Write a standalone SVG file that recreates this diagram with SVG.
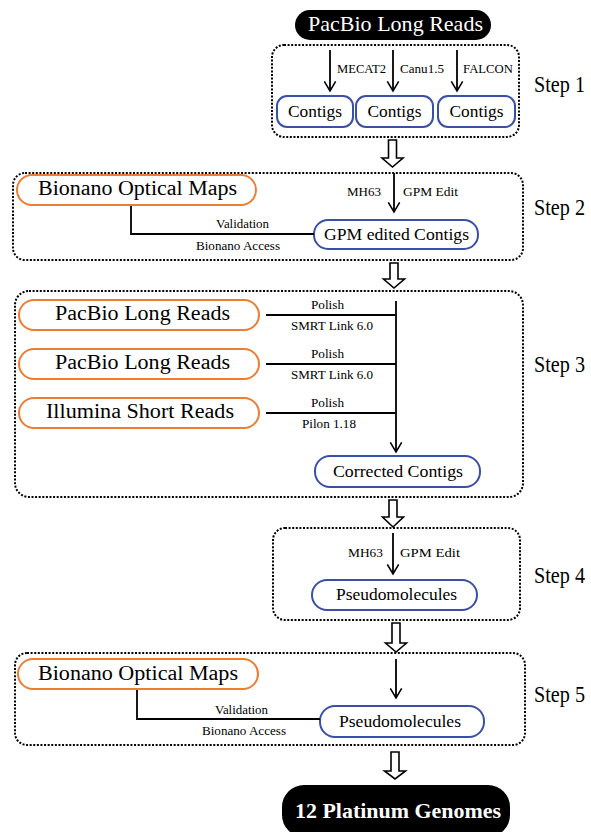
<svg xmlns="http://www.w3.org/2000/svg" width="591" height="832" viewBox="0 0 591 832" font-family="Liberation Serif, Times New Roman, serif">
<defs>
<style>
text{font-family:'Liberation Serif','Times New Roman',serif;fill:#000}
.dot{fill:none;stroke:#000;stroke-width:2;stroke-dasharray:2 1.6}
.or{fill:#fff;stroke:#ED7D31;stroke-width:2}
.bl{fill:#fff;stroke:#3A4FA8;stroke-width:2}
.ln{fill:none;stroke:#000;stroke-width:1.8}
.hol{fill:#fff;stroke:#000;stroke-width:1.6;stroke-linejoin:miter}
.big{font-size:20px}
.mid{font-size:17px}
.sm{font-size:12.5px}
.step{font-size:23px}
.wt{fill:#fff}
</style>
<marker id="chev" markerWidth="16" markerHeight="14" viewBox="-12 -8 14 16" refX="0" refY="0" orient="auto" markerUnits="userSpaceOnUse">
<path d="M-11,-6.5 L0,0 L-11,6.5" fill="none" stroke="#000" stroke-width="1.8"/>
</marker>
</defs>

<g id="step-boxes">
<rect id="step1-box" class="dot" x="272" y="45" width="247" height="92" rx="12"/>
<rect id="step2-box" class="dot" x="13" y="173" width="510" height="87" rx="12"/>
<rect id="step3-box" class="dot" x="15" y="291" width="508" height="206" rx="14"/>
<rect id="step4-box" class="dot" x="273" y="528" width="247" height="92" rx="12"/>
<rect id="step5-box" class="dot" x="15" y="653" width="510" height="92" rx="12"/>
</g>

<g id="step-labels">
<text class="step" x="534" y="92" textLength="51" lengthAdjust="spacingAndGlyphs">Step 1</text>
<text class="step" x="534" y="215" textLength="51" lengthAdjust="spacingAndGlyphs">Step 2</text>
<text class="step" x="534" y="372" textLength="51" lengthAdjust="spacingAndGlyphs">Step 3</text>
<text class="step" x="534" y="583" textLength="51" lengthAdjust="spacingAndGlyphs">Step 4</text>
<text class="step" x="534" y="702" textLength="51" lengthAdjust="spacingAndGlyphs">Step 5</text>
</g>

<g id="pacbio-top">
<rect x="295" y="10" width="196" height="30" rx="15" fill="#000"/>
<text class="wt" x="308" y="31" font-size="22" textLength="175" lengthAdjust="spacingAndGlyphs">PacBio Long Reads</text>
</g>

<g id="contigs-1"><rect class="bl" x="277" y="96" width="76" height="31" rx="10"/><text class="mid" x="288" y="117" textLength="54" lengthAdjust="spacingAndGlyphs">Contigs</text></g>
<g id="contigs-2"><rect class="bl" x="356" y="96" width="77" height="31" rx="10"/><text class="mid" x="367.5" y="117" textLength="54" lengthAdjust="spacingAndGlyphs">Contigs</text></g>
<g id="contigs-3"><rect class="bl" x="438" y="96" width="77" height="31" rx="10"/><text class="mid" x="449.5" y="117" textLength="54" lengthAdjust="spacingAndGlyphs">Contigs</text></g>

<g id="bionano-2"><rect class="or" x="17" y="175" width="239" height="30" rx="15"/><text class="big" x="38" y="195" textLength="199" lengthAdjust="spacingAndGlyphs">Bionano Optical Maps</text></g>
<g id="gpm-contigs"><rect class="bl" x="314" y="220" width="164" height="29" rx="14"/><text class="mid" x="324" y="240" textLength="145" lengthAdjust="spacingAndGlyphs">GPM edited Contigs</text></g>

<g id="pacbio-3a"><rect class="or" x="19" y="300" width="240" height="30" rx="15"/><text class="big" x="55" y="320" textLength="175" lengthAdjust="spacingAndGlyphs">PacBio Long Reads</text></g>
<g id="pacbio-3b"><rect class="or" x="19" y="349" width="240" height="30" rx="15"/><text class="big" x="55" y="369" textLength="175" lengthAdjust="spacingAndGlyphs">PacBio Long Reads</text></g>
<g id="illumina"><rect class="or" x="19" y="398" width="240" height="30" rx="15"/><text class="big" x="46" y="418" textLength="188" lengthAdjust="spacingAndGlyphs">Illumina Short Reads</text></g>
<g id="corrected-contigs"><rect class="bl" x="315" y="456" width="165" height="31" rx="15"/><text class="mid" x="333" y="477" textLength="130" lengthAdjust="spacingAndGlyphs">Corrected Contigs</text></g>

<g id="pseudo-4"><rect class="bl" x="312" y="580" width="165" height="30" rx="15"/><text class="mid" x="336" y="600" textLength="121" lengthAdjust="spacingAndGlyphs">Pseudomolecules</text></g>

<g id="bionano-5"><rect class="or" x="18" y="659" width="240" height="30" rx="15"/><text class="big" x="38" y="680" textLength="200" lengthAdjust="spacingAndGlyphs">Bionano Optical Maps</text></g>
<g id="pseudo-5"><rect class="bl" x="320" y="706" width="164" height="31" rx="15"/><text class="mid" x="339" y="727" textLength="122" lengthAdjust="spacingAndGlyphs">Pseudomolecules</text></g>

<g id="platinum">
<rect x="282" y="785" width="228" height="52" rx="22" fill="#000"/>
<text class="wt" x="295" y="818" font-size="22" font-weight="bold" textLength="206" lengthAdjust="spacingAndGlyphs">12 Platinum Genomes</text>
</g>

<g id="connectors">
<line class="ln" x1="330" y1="50" x2="330" y2="91" marker-end="url(#chev)"/>
<line class="ln" x1="393" y1="50" x2="393" y2="91" marker-end="url(#chev)"/>
<line class="ln" x1="457" y1="50" x2="457" y2="91" marker-end="url(#chev)"/>
<line class="ln" x1="394" y1="173" x2="394" y2="212" marker-end="url(#chev)"/>
<path class="ln" d="M131,206 V234 H314"/>
<path class="ln" d="M266,315 H396 M266,364 H396 M266,413 H396"/>
<line class="ln" x1="396" y1="301" x2="396" y2="452" marker-end="url(#chev)"/>
<line class="ln" x1="393" y1="533" x2="393" y2="574" marker-end="url(#chev)"/>
<line class="ln" x1="396" y1="659" x2="396" y2="698" marker-end="url(#chev)"/>
<path class="ln" d="M137,690 V719 H320"/>
<path class="hol" d="M388.5,140 H396.5 V158 H403 L392.5,167 L382,158 H388.5 Z"/>
<path class="hol" d="M390,263 H398 V279 H404.5 L394,288 L383.5,279 H390 Z"/>
<path class="hol" d="M389,500 H397 V517 H403.5 L393,527 L382.5,517 H389 Z"/>
<path class="hol" d="M392,623 H400 V643 H406.5 L396,652 L385.5,643 H392 Z"/>
<path class="hol" d="M391,752 H399 V771 H405.5 L395,779 L384.5,771 H391 Z"/>
</g>

<g id="edge-labels">
<text class="sm" x="337" y="73" textLength="49" lengthAdjust="spacingAndGlyphs">MECAT2</text>
<text class="sm" x="400" y="73" textLength="44" lengthAdjust="spacingAndGlyphs">Canu1.5</text>
<text class="sm" x="463" y="73" textLength="50" lengthAdjust="spacingAndGlyphs">FALCON</text>
<text class="sm" x="347" y="196" textLength="34" lengthAdjust="spacingAndGlyphs">MH63</text>
<text class="sm" x="403" y="196" textLength="55" lengthAdjust="spacingAndGlyphs">GPM Edit</text>
<text class="sm" x="216" y="228" textLength="53" lengthAdjust="spacingAndGlyphs">Validation</text>
<text class="sm" x="196" y="250" textLength="84" lengthAdjust="spacingAndGlyphs">Bionano Access</text>
<text class="sm" x="311" y="309" textLength="33" lengthAdjust="spacingAndGlyphs">Polish</text>
<text class="sm" x="291" y="330" textLength="82" lengthAdjust="spacingAndGlyphs">SMRT Link 6.0</text>
<text class="sm" x="311" y="358" textLength="33" lengthAdjust="spacingAndGlyphs">Polish</text>
<text class="sm" x="291" y="379" textLength="82" lengthAdjust="spacingAndGlyphs">SMRT Link 6.0</text>
<text class="sm" x="311" y="407" textLength="33" lengthAdjust="spacingAndGlyphs">Polish</text>
<text class="sm" x="302" y="428" textLength="54" lengthAdjust="spacingAndGlyphs">Pilon 1.18</text>
<text class="sm" x="348" y="557" textLength="35" lengthAdjust="spacingAndGlyphs">MH63</text>
<text class="sm" x="400" y="557" textLength="60" lengthAdjust="spacingAndGlyphs">GPM Edit</text>
<text class="sm" x="215" y="714" textLength="53" lengthAdjust="spacingAndGlyphs">Validation</text>
<text class="sm" x="202" y="735" textLength="84" lengthAdjust="spacingAndGlyphs">Bionano Access</text>
</g>
</svg>
